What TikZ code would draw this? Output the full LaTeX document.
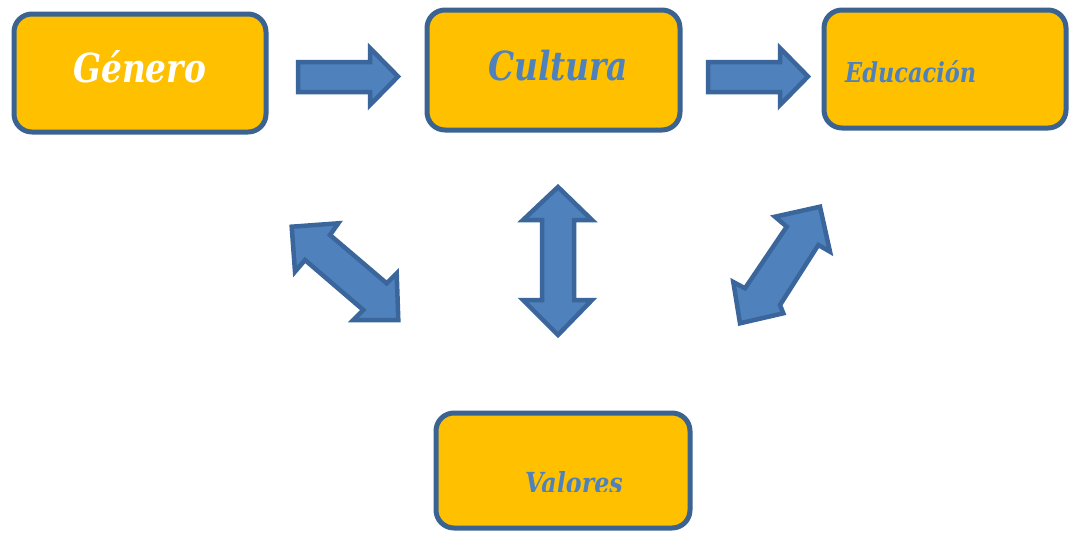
\documentclass[tikz,border=0pt]{standalone}
\usepackage{fontspec}
\setmainfont{DejaVu Serif}
\newfontfamily\labelfont[FakeStretch=0.82]{DejaVu Serif}
\definecolor{boxfill}{HTML}{FFC000}
\definecolor{boxline}{HTML}{3B6391}
\definecolor{arrfill}{HTML}{4F81BD}
\definecolor{arrline}{HTML}{3A669C}
\definecolor{txtblue}{HTML}{4F81BD}
\begin{document}
\begin{tikzpicture}[x=1pt,y=-1pt,
  box/.style={draw=boxline, fill=boxfill, line width=5pt, rounded corners=18pt},
  blockarrow/.style={draw=arrline, fill=arrfill, line width=4.5pt, line join=miter},
  lbl/.style={inner sep=0pt, anchor=base west}]
\useasboundingbox (0,0) rectangle (1070,533);
\fill[white] (0,0) rectangle (1070,533);
% boxes
\path[box] (14,14) rectangle (266,132);
\node[inner sep=0pt, minimum width=252pt, minimum height=118pt] (gen) at (140,73) {};
\path[box] (427,10) rectangle (680,130);
\node[inner sep=0pt, minimum width=253pt, minimum height=120pt] (cul) at (553.5,70) {};
\path[box] (824,10) rectangle (1066,128);
\node[inner sep=0pt, minimum width=242pt, minimum height=118pt] (edu) at (945,69) {};
\path[box] (436,413) rectangle (690,528);
\node[inner sep=0pt, minimum width=254pt, minimum height=115pt] (val) at (563,470.5) {};
% texts
\node[lbl, text=white, font=\labelfont\fontsize{40}{46}\selectfont\bfseries\itshape] (tgen) at (73,82) {Género};
\node[lbl, text=txtblue, font=\labelfont\fontsize{40}{46}\selectfont\bfseries\itshape] (tcul) at (488,80) {Cultura};
\node[lbl, text=txtblue, font=\labelfont\fontsize{27.4}{32}\selectfont\bfseries\itshape] (tedu) at (845,82) {Educación};
\begin{scope}
\clip (436,413) rectangle (690,491);
\node[lbl, text=txtblue, font=\labelfont\fontsize{29}{34}\selectfont\bfseries\itshape] (tval) at (525,493) {Valores};
\end{scope}
% right arrows
\path[blockarrow] (298,62) -- (370,62) -- (370,48) -- (398,76.5) -- (370,105) -- (370,92) -- (298,92) -- cycle;
\path[blockarrow] (708,62) -- (780,62) -- (780,48) -- (808,76.5) -- (780,105) -- (780,92) -- (708,92) -- cycle;
% vertical double arrow
\path[blockarrow] (558,187) -- (592,220) -- (574,220) -- (574,300) -- (592,300) -- (558,335)
  -- (523,300) -- (542,300) -- (542,220) -- (523,220) -- cycle;
% left diagonal double arrow
\path[blockarrow] (291.7,226.7) -- (338.3,223.3) -- (330,235) -- (386.7,283.3) -- (396.7,273.3)
  -- (398.3,320) -- (353.3,320) -- (363.3,310) -- (305,260) -- (295,271.7) -- cycle;
% right diagonal double arrow
\path[blockarrow] (820,206.7) -- (830,251.7) -- (818.3,245) -- (780,305) -- (783.3,313.3)
  -- (740,323.3) -- (733.3,282) -- (745,288.3) -- (786.7,226.7) -- (775,216.7) -- cycle;
\end{tikzpicture}
\end{document}
